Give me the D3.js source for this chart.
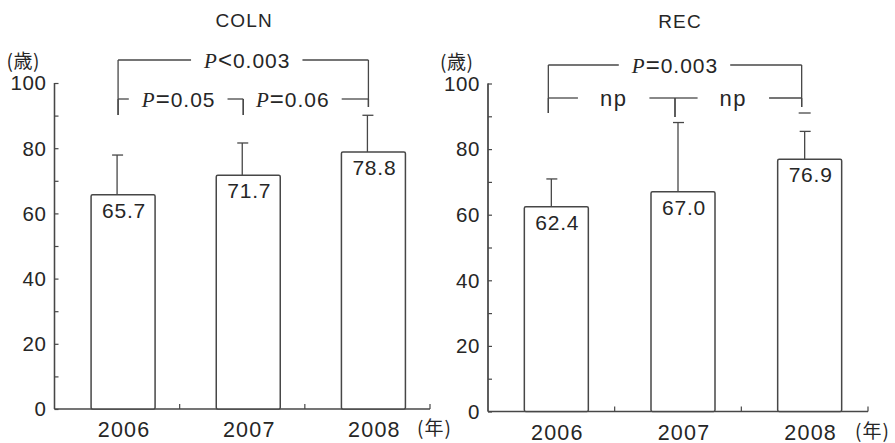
<!DOCTYPE html>
<html>
<head>
<meta charset="utf-8">
<script src="https://cdn.jsdelivr.net/npm/d3@7/dist/d3.min.js"></script>
<style>
  html, body { margin: 0; padding: 0; background: #fff; }
  svg { display: block; }
  text { fill: #262626; font-family: "Liberation Sans", Arial, sans-serif; }
  .cjk { font-family: "Noto Sans CJK JP", sans-serif; }
</style>
</head>
<body>
<svg id="chart" width="895" height="443"></svg>
<script>
// Mean age (bars) and mean + SD (error bar tops), by year
const years = ["2006", "2007", "2008"];
const colnMeans = [65.7, 71.7, 78.8];
const colnUpper = [77.9, 81.6, 90.1];
const recMeans = [62.4, 67.0, 76.9];
const recUpper = [70.9, 88.1, 85.4];

const yTicks = [0, 20, 40, 60, 80, 100];
const yMinorTicks = [10, 30, 50, 70, 90];
const panelTitles = ["COLN", "REC"];
const yUnit = "(歳)";
const xUnit = "(年)";

// Significance brackets: [from year index, to year index, label, row]
const colnBrackets = [[0, 2, "P<0.003", 0], [0, 1, "P=0.05", 1], [1, 2, "P=0.06", 1]];
const recBrackets = [[0, 2, "P=0.003", 0], [0, 1, "np", 1], [1, 2, "np", 1]];

const panels = [
  { title: panelTitles[0], means: colnMeans, upper: colnUpper, brackets: colnBrackets,
    x0: 54.5, x1: 430, y0: 409, y1: 83, barShift: 6, brShift: 1,
    rowY: [60, 99], dropEnd: [115, 115, 107], capDash: [false, false, false],
    labelDx: [4, -2, -13], titleY: 27 },
  { title: panelTitles[1], means: recMeans, upper: recUpper, brackets: recBrackets,
    x0: 488, x1: 868, y0: 411.5, y1: 83.5, barShift: 5, brShift: -3,
    rowY: [65, 98], dropEnd: [113, 117, 107], capDash: [false, false, true],
    labelDx: [0, 2, -5], titleY: 28 }
];

const ink = "#474747";
const svg = d3.select("#chart");

panels.forEach(p => {
  const g = svg.append("g");
  const x = d3.scaleBand().domain(years).range([p.x0, p.x1]).padding(0);
  const y = d3.scaleLinear().domain([0, 100]).range([p.y0, p.y1]);
  const cx = d => x(d) + x.bandwidth() / 2;
  const barW = 64;

  // title
  g.append("text").attr("x", (p.x0 + p.x1) / 2 + 2).attr("y", p.titleY)
    .attr("text-anchor", "middle").style("font-size", "19px").style("letter-spacing", "1.2px")
    .text(p.title);

  // y axis with inward ticks
  const yAxis = d3.axisRight(y).tickValues(yTicks).tickSize(4).tickFormat("");
  const ya = g.append("g").attr("transform", `translate(${p.x0},0)`).call(yAxis);
  const yMinor = d3.axisRight(y).tickValues(yMinorTicks).tickSize(4).tickFormat("");
  const ym = g.append("g").attr("transform", `translate(${p.x0},0)`).call(yMinor);
  [ya, ym].forEach(a => {
    a.select(".domain").attr("stroke", ink).attr("stroke-width", 1.3).attr("d", `M0,${p.y0}V${p.y1}`);
    a.selectAll(".tick line").attr("stroke", ink).attr("stroke-width", 1.2);
  });
  g.selectAll(".ylab").data(yTicks).join("text")
    .attr("x", p.x0 - 8).attr("y", d => y(d)).attr("dy", "0.36em")
    .attr("text-anchor", "end").style("font-size", "20.5px").style("letter-spacing", "0.6px")
    .text(d => d);
  g.append("text").attr("class", "cjk").attr("x", p.x0 - 48).attr("y", p.y1 - 15)
    .style("font-size", "19px").style("letter-spacing", "0.5px").text(yUnit);

  // x axis: baseline with small upward ticks between categories and at the end
  g.append("line").attr("x1", p.x0).attr("x2", p.x1).attr("y1", y(0)).attr("y2", y(0))
    .attr("stroke", ink).attr("stroke-width", 1.4);
  const seps = years.slice(1).map(d => x(d)).concat([p.x1]);
  g.selectAll(".sep").data(seps).join("line")
    .attr("x1", d => d).attr("x2", d => d).attr("y1", y(0)).attr("y2", y(0) - 5)
    .attr("stroke", ink).attr("stroke-width", 1.2);
  g.selectAll(".xlab").data(years).join("text")
    .attr("x", d => cx(d) + p.barShift + 1).attr("y", y(0) + 28)
    .attr("text-anchor", "middle").style("font-size", "21.5px").style("letter-spacing", "1.2px")
    .text(d => d);
  g.append("text").attr("class", "cjk").attr("x", p.x1 - 13).attr("y", y(0) + 26)
    .style("font-size", "19px").style("letter-spacing", "1px").text(xUnit);

  // error bars (upper only) centred on each category
  years.forEach((d, i) => {
    g.append("line").attr("x1", cx(d)).attr("x2", cx(d))
      .attr("y1", y(p.means[i])).attr("y2", y(p.upper[i]))
      .attr("stroke", ink).attr("stroke-width", 1.3);
    g.append("line").attr("x1", cx(d) - 5).attr("x2", cx(d) + 6)
      .attr("y1", y(p.upper[i])).attr("y2", y(p.upper[i]))
      .attr("stroke", ink).attr("stroke-width", 1.3);
  });

  // bars
  g.selectAll(".bar").data(years).join("rect")
    .attr("x", d => cx(d) + p.barShift - barW / 2).attr("width", barW)
    .attr("y", (d, i) => y(p.means[i])).attr("height", (d, i) => y(0) - y(p.means[i]))
    .attr("fill", "#fff").attr("stroke", ink).attr("stroke-width", 1.5).attr("rx", 1.5);
  g.selectAll(".val").data(years).join("text")
    .attr("x", d => cx(d) + p.barShift + 1).attr("y", (d, i) => y(p.means[i]) + 23)
    .attr("text-anchor", "middle").style("font-size", "21px").style("letter-spacing", "0.8px")
    .text((d, i) => p.means[i].toFixed(1));

  // significance brackets
  const bx = i => cx(years[i]) + p.brShift;
  p.brackets.forEach(([a, b, label, row], k) => {
    const yy = p.rowY[row];
    const mid = (bx(a) + bx(b)) / 2 + p.labelDx[k];
    const t = g.append("text").attr("x", mid).attr("y", yy).attr("dy", "0.36em")
      .attr("text-anchor", "middle").style("font-size", "21px");
    if (label.startsWith("P")) {
      t.append("tspan").text("P")
        .style("font-family", "'Liberation Serif', 'Times New Roman', serif")
        .style("font-style", "italic").style("letter-spacing", "1px");
      t.append("tspan").text(label.charAt(1))
        .style("font-size", "24px").style("letter-spacing", "1px");
      t.append("tspan").text(label.slice(2)).style("letter-spacing", "1px");
    } else {
      t.text(label).style("font-size", "22px").style("letter-spacing", "1.5px");
    }
    const bb = t.node().getBBox();
    const gap = label.startsWith("P") ? 12 : 22;
    const segs = [[bx(a), bb.x - gap], [bb.x + bb.width + gap, bx(b)]];
    segs.forEach(([s, e]) => {
      if (e > s) g.append("line").attr("x1", s).attr("x2", e).attr("y1", yy).attr("y2", yy)
        .attr("stroke", ink).attr("stroke-width", 1.3);
    });
    [a, b].forEach(i => {
      g.append("line").attr("x1", bx(i)).attr("x2", bx(i))
        .attr("y1", yy).attr("y2", p.dropEnd[i])
        .attr("stroke", ink).attr("stroke-width", 1.3);
    });
  });
  p.capDash.forEach((on, i) => {
    if (on) g.append("line").attr("x1", bx(i) - 3).attr("x2", bx(i) + 9)
      .attr("y1", p.dropEnd[i] + 6).attr("y2", p.dropEnd[i] + 6)
      .attr("stroke", ink).attr("stroke-width", 1.3);
  });
});
</script>
</body>
</html>
